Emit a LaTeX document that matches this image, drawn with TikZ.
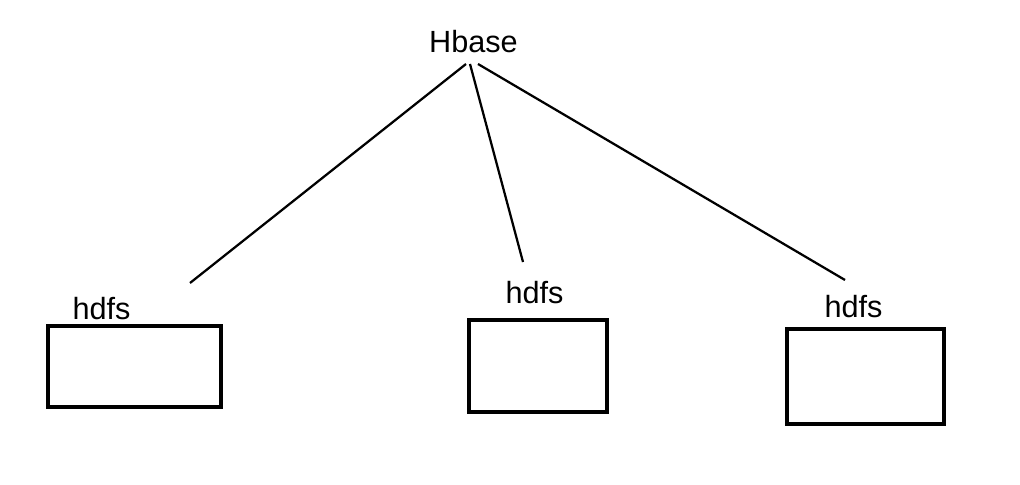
\documentclass[tikz,border=0pt]{standalone}
\usepackage{fontspec}
\setmainfont{Liberation Sans}
\usepackage{tikz}

\begin{document}
\begin{tikzpicture}[x=0.025cm,y=-0.025cm,
    lbl/.style={anchor=base,inner sep=0pt,font=\fontsize{21.8}{26}\selectfont},
    hdfsbox/.style={draw,line width=2.4pt,inner sep=0pt},
    link/.style={line width=1.6pt}]
  \useasboundingbox (0,0) rectangle (1020,485);
  \node[lbl] (hbase) at (473.5,53) {Hbase};
  \coordinate (top1) at (466,64);
  \coordinate (top2) at (470,64);
  \coordinate (top3) at (478,64);
  \coordinate (end1) at (190,283);
  \coordinate (end2) at (523,262);
  \coordinate (end3) at (845,280);
  \draw[link] (top1) -- (end1);
  \draw[link] (top2) -- (end2);
  \draw[link] (top3) -- (end3);
  \node[lbl] (hdfs1) at (101.5,319) {hdfs};
  \node[lbl] (hdfs2) at (534.5,303) {hdfs};
  \node[lbl] (hdfs3) at (853.5,317) {hdfs};
  \node[hdfsbox,minimum width=4.325cm,minimum height=2.025cm] (box1) at (134.5,366.5) {};
  \node[hdfsbox,minimum width=3.45cm,minimum height=2.3cm] (box2) at (538,366) {};
  \node[hdfsbox,minimum width=3.925cm,minimum height=2.375cm] (box3) at (865.5,376.5) {};
\end{tikzpicture}
\end{document}
